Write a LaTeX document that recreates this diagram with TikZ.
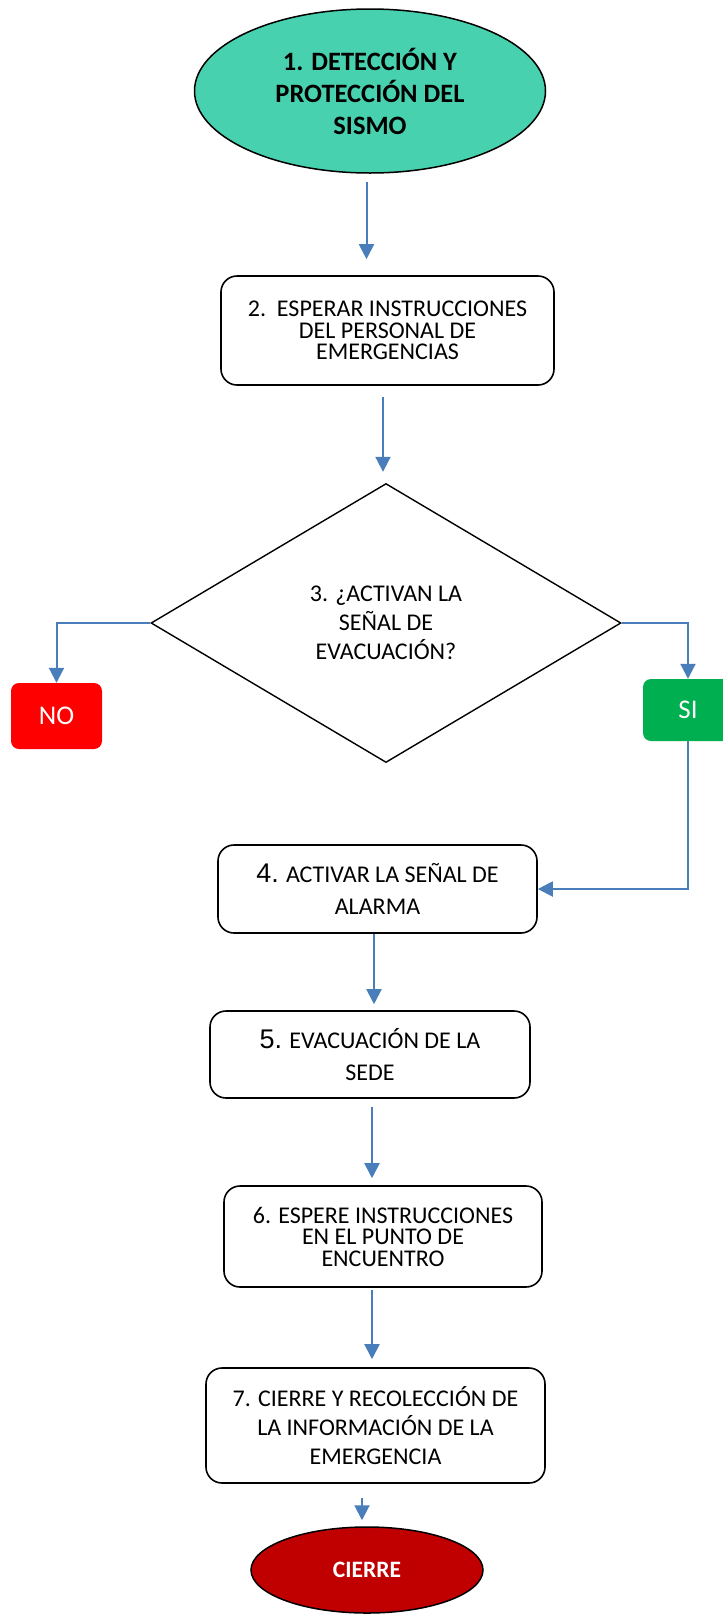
\documentclass[tikz,border=0pt]{standalone}
\usepackage{fontspec}
\setmainfont{Carlito}
\newfontfamily\arialf{Liberation Sans}
\usetikzlibrary{shapes.geometric,arrows.meta,calc}
\definecolor{tealfill}{RGB}{72,209,174}
\definecolor{arrowblue}{RGB}{74,126,187}
\definecolor{nored}{RGB}{255,0,0}
\definecolor{sigreen}{RGB}{0,176,80}
\definecolor{endred}{RGB}{192,0,0}
\begin{document}
\begin{tikzpicture}[x=1pt,y=-1pt,
  arr/.style={draw=arrowblue,line width=2pt,-{Triangle[width=15pt,length=15pt]}},
  stepbox/.style={draw=black,line width=1.6pt,rounded corners=16pt,fill=white,align=center,inner sep=0pt},
  oval/.style={ellipse,draw=black,line width=1.5pt,align=center,inner sep=0pt},
  flag/.style={rounded corners=8pt,text=white,inner sep=0pt,font=\fontsize{27}{32}\selectfont}
]
\useasboundingbox (0,0) rectangle (723,1615);
\clip (0,0) rectangle (723,1615);

\node[oval,fill=tealfill,minimum width=351pt,minimum height=164pt,
  font=\bfseries\fontsize{26.5}{32}\selectfont] (e1) at (370,91)
  {1. DETECCIÓN Y\\PROTECCIÓN DEL\\SISMO};

\node[stepbox,minimum width=333pt,minimum height=109pt,
  font=\fontsize{24}{21.5}\selectfont] (b2) at (387.5,330.5)
  {2.\ \ ESPERAR INSTRUCCIONES\\DEL PERSONAL DE\\EMERGENCIAS};

\node[diamond,draw=black,line width=1.4pt,aspect=1.685,minimum width=470pt,minimum height=279pt,
  inner sep=0pt,align=center,font=\fontsize{24}{29}\selectfont] (d3) at (386,623)
  {3. ¿ACTIVAN LA\\SEÑAL DE\\EVACUACIÓN?};

\node[flag,fill=nored,minimum width=91pt,minimum height=66pt] (no) at (56.5,716) {NO};
\node[flag,fill=sigreen,minimum width=90pt,minimum height=62pt] (si) at (688,710) {SI};

\node[stepbox,minimum width=319pt,minimum height=88pt,
  font=\fontsize{24}{32}\selectfont] (b4) at (377.5,889)
  {{\arialf\fontsize{27}{32}\selectfont 4.} ACTIVAR LA SEÑAL DE\\ALARMA};

\node[stepbox,minimum width=320pt,minimum height=87pt,
  font=\fontsize{24}{32}\selectfont] (b5) at (370,1054.5)
  {{\arialf\fontsize{27}{32}\selectfont 5.} EVACUACIÓN DE LA\\SEDE};

\node[stepbox,minimum width=318pt,minimum height=101pt,
  font=\fontsize{24}{21.5}\selectfont] (b6) at (383,1236.5)
  {6. ESPERE INSTRUCCIONES\\EN EL PUNTO DE\\ENCUENTRO};

\node[stepbox,minimum width=339pt,minimum height=115pt,
  font=\fontsize{24}{29}\selectfont] (b7) at (375.5,1425.5)
  {7. CIERRE Y RECOLECCIÓN DE\\LA INFORMACIÓN DE LA\\EMERGENCIA};

\node[oval,fill=endred,text=white,minimum width=232pt,minimum height=86pt,
  font=\bfseries\fontsize{23.5}{28}\selectfont] (e8) at (367,1570) {CIERRE};

\draw[arr,shorten <=8pt,shorten >=16pt] ([xshift=-3.5pt]e1.south) -- ([xshift=-3.5pt]e1.south |- b2.north);
\draw[arr,shorten <=11pt,shorten >=11pt] ([xshift=-4.5pt]b2.south) -- ([xshift=-4.5pt]b2.south |- d3.north);
\draw[arr] (d3.west) -| (no.north);
\draw[arr] (d3.east) -| (si.north);
\draw[arr] (si.south) |- (b4.east);
\draw[arr,shorten >=6pt] ([xshift=-3.5pt]b4.south) -- ([xshift=-3.5pt]b4.south |- b5.north);
\draw[arr,shorten <=8pt,shorten >=7pt] ([xshift=2pt]b5.south) -- ([xshift=2pt]b5.south |- b6.north);
\draw[arr,shorten <=2pt,shorten >=8pt] ([xshift=-11pt]b6.south) -- ([xshift=-11pt]b6.south |- b7.north);
\draw[arr,shorten <=14pt,shorten >=6pt] ([xshift=-13.5pt]b7.south) -- ([xshift=-13.5pt]b7.south |- e8.north);
\end{tikzpicture}
\end{document}
